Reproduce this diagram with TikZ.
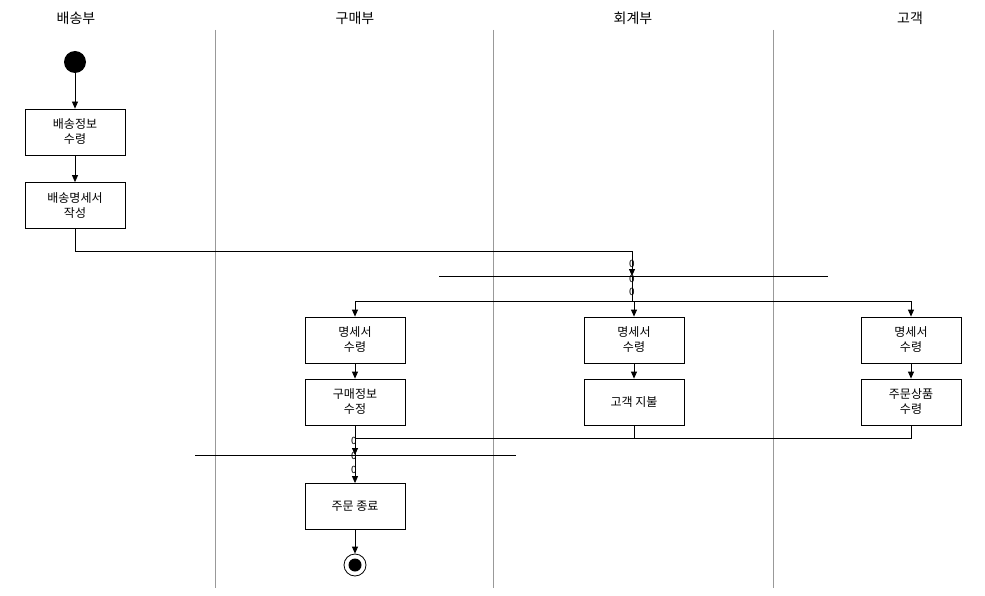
\documentclass[tikz,border=0pt]{standalone}
\usepackage{fontspec}
\setmainfont{Noto Sans CJK KR}
\usetikzlibrary{arrows.meta}
\tikzset{
  box/.style={draw, line width=0.8pt, minimum width=100pt, minimum height=46pt, align=center, font=\fontsize{12}{15}\selectfont, inner sep=1pt},
  hdr/.style={font=\fontsize{14}{16}\selectfont},
  arr/.style={-{Triangle[length=7pt,width=6pt]}, line width=0.8pt},
  ln/.style={line width=0.8pt},
  lane/.style={draw=gray!80, line width=0.6pt},
  zero/.style={font=\fontsize{10}{11}\selectfont, inner sep=0pt}
}
\begin{document}
\begin{tikzpicture}[x=1pt,y=-1pt]
\useasboundingbox (0,0) rectangle (985,596);
% headers
\node[hdr] (h1) at (76,18) {배송부};
\node[hdr] (h2) at (355,18) {구매부};
\node[hdr] (h3) at (633,18) {회계부};
\node[hdr] (h4) at (910,18) {고객};
% lanes
\draw[lane] (215,30) -- (215,588);
\draw[lane] (493,30) -- (493,588);
\draw[lane] (773,30) -- (773,588);
% start
\node[circle, fill=black, minimum size=22pt, inner sep=0pt] (st) at (75,62) {};
\node[box] (b1) at (75,132) {배송정보\\수령};
\node[box] (b2) at (75,205.5) {배송명세서\\작성};
\draw[arr] (st) -- (b1);
\draw[arr] (b1) -- (b2);
% fork
\coordinate (fk) at (632,276);
\draw[ln] (439,276) -- (828,276);
\draw[arr] (b2.south) -- (75,251) -| (fk);
\coordinate (fb) at (632,301);
\draw[ln] (fk) -- (fb);
\node[zero] (z1) at (632,264) {0};
\node[zero] (z2) at (632,279) {0};
\node[zero] (z3) at (632,292) {0};
% row 1
\node[box] (p1) at (355,340) {명세서\\수령};
\node[box] (a1) at (634,340) {명세서\\수령};
\node[box] (c1) at (911,340) {명세서\\수령};
\draw[ln] (p1.north |- fb) -- (c1.north |- fb);
\draw[arr] (p1.north |- fb) -- (p1.north);
\draw[arr] (a1.north |- fb) -- (a1.north);
\draw[arr] (c1.north |- fb) -- (c1.north);
% row 2
\node[box] (p2) at (355,402) {구매정보\\수정};
\node[box] (a2) at (634,402) {고객 지불};
\node[box] (c2) at (911,402) {주문상품\\수령};
\draw[arr] (p1) -- (p2);
\draw[arr] (a1) -- (a2);
\draw[arr] (c1) -- (c2);
% join
\coordinate (jm) at (355,438);
\coordinate (jn) at (355,455);
\draw[ln] (a2.south) |- (jm);
\draw[ln] (c2.south) |- (jm);
\draw[arr] (p2.south) -- (jn);
\draw[ln] (195,455) -- (516,455);
\node[zero] (z4) at (354,441) {0};
\node[zero] (z5) at (354,456) {0};
\node[zero] (z6) at (354,470) {0};
\node[box] (e1) at (355,506.5) {주문 종료};
\draw[arr] (jn) -- (e1.north);
% end
\node[circle, draw, line width=0.8pt, minimum size=22pt, inner sep=0pt] (en) at (355,565) {};
\node[circle, fill=black, minimum size=13pt, inner sep=0pt] (en2) at (en) {};
\draw[arr] (e1) -- (en);
\end{tikzpicture}
\end{document}
